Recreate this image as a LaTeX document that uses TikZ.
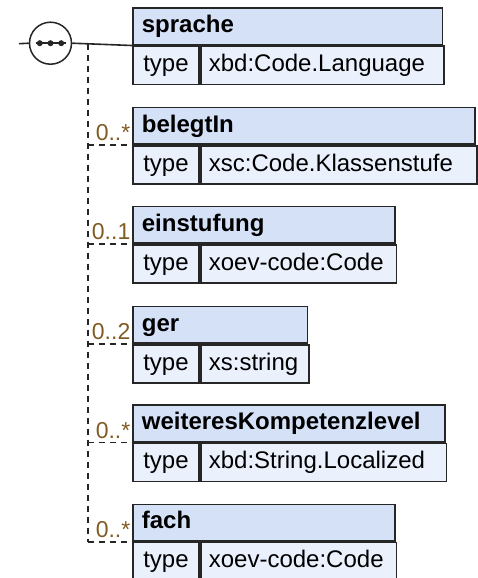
\documentclass[tikz,border=0pt]{standalone}
\usepackage{fontspec}
\setmainfont{Liberation Sans}
\usetikzlibrary{calc}
\definecolor{hdrblue}{RGB}{212,225,247}
\definecolor{rowblue}{RGB}{234,240,252}
\definecolor{multbrown}{RGB}{128,92,36}
\definecolor{edgegray}{RGB}{38,38,38}

\begin{document}
\begin{tikzpicture}[x=1pt, y=-1pt,
  elhead/.style={draw=edgegray, line width=1.7pt, fill=hdrblue, anchor=north west,
    minimum height=36.5pt, inner xsep=9pt, inner ysep=0pt, align=left,
    text height=17.5pt, text depth=5pt, font=\bfseries\fontsize{24}{28}\selectfont},
  typecell/.style={draw=edgegray, line width=1.7pt, fill=rowblue, anchor=north west,
    minimum width=66.3pt, minimum height=38pt, inner xsep=8pt, inner ysep=0pt,
    text height=17.5pt, text depth=5pt, font=\fontsize{24}{28}\selectfont},
  valcell/.style={typecell, minimum width=0pt, align=left},
  conn/.style={draw=edgegray, line width=1.6pt},
  dashconn/.style={conn, dash pattern=on 6.5pt off 4.5pt},
  mult/.style={anchor=base east, text=multbrown, inner sep=0pt,
    font=\fontsize{23}{28}\selectfont}
]
\useasboundingbox (0,0) rectangle (477,578);

% element boxes: header, then type row
\foreach \nm/\lbl/\ytop/\boxw/\val in {
    spr/sprache/7.3/309.7/xbd:Code.Language,
    beleg/belegtIn/106.7/342.3/xsc:Code.Klassenstufe,
    einst/einstufung/205.7/262/xoev-code:Code,
    ger/ger/305.7/174.7/xs:string,
    weit/weiteresKompetenzlevel/404.3/312/xbd:String.Localized,
    fach/fach/503.5/262/xoev-code:Code}{
  \pgfmathsetmacro{\hw}{\boxw-18}
  \pgfmathsetmacro{\vw}{\boxw-82.3}
  \node[elhead, text width=\hw pt] (\nm-h) at (132,\ytop) {\lbl};
  \node[typecell] (\nm-t) at (\nm-h.south west) {type};
  \node[valcell, text width=\vw pt] (\nm-v) at (\nm-t.north east) {\val};
}

% sequence compositor
\coordinate (start) at (19,43.7);
\node[circle, draw=edgegray, line width=1.5pt, fill=white, minimum size=42pt,
  inner sep=0pt] (seq) at (50.5,43.2) {};
\draw[conn] (start) -- (seq.west);
\draw[conn] (seq.east) -- (spr-h.south west);
\draw[conn] ($(seq.center)+(-15,0)$) -- ($(seq.center)+(15,0)$);
\foreach \dx in {-10.7,0,10.7}
  \fill[edgegray] ($(seq.center)+(\dx,0)$) circle (3);

% optional children
\coordinate (fork) at (87.7,43.7);
\draw[dashconn] (fork) -- (fork |- fach-h.south west);
\foreach \nm/\mult in {beleg/0..*, einst/0..1, ger/0..2, weit/0..*, fach/0..*}{
  \draw[dashconn] (fork |- \nm-h.south west) -- (\nm-h.south west);
  \node[mult] (\nm-m) at ($(\nm-h.south west)+(-1.5,-4)$) {\mult};
}
\end{tikzpicture}
\end{document}
